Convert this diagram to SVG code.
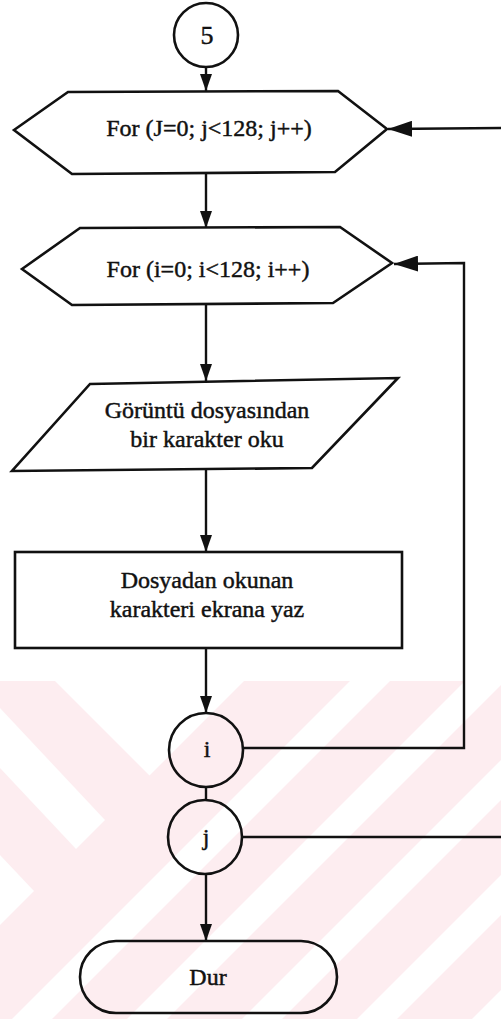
<svg xmlns="http://www.w3.org/2000/svg" width="501" height="1019" viewBox="0 0 501 1019">
  <style>
    .shape { fill: none; stroke: #111; stroke-width: 2.6; stroke-linejoin: miter; }
    .conn { fill: none; stroke: #111; stroke-width: 2.4; }
    .lbl { font-family: "Liberation Serif", "Times New Roman", serif; font-size: 24px; fill: #111; stroke: #111; stroke-width: 0.45; text-anchor: middle; }
    .wm { fill: #fdedf0; }
    .wmgap { fill: #ffffff; }
  </style>
  <defs>
    <marker id="arr" viewBox="0 0 17 12" refX="17" refY="6" markerWidth="17" markerHeight="12" markerUnits="userSpaceOnUse" orient="auto">
      <path d="M0,0 L17,6 L0,12 Z" fill="#111"/>
    </marker>
    <marker id="arrBig" viewBox="0 0 24 16" refX="24" refY="8" markerWidth="24" markerHeight="16" markerUnits="userSpaceOnUse" orient="auto">
      <path d="M0,0 L24,8 L0,16 Z" fill="#111"/>
    </marker>
    <clipPath id="wmClip">
      <rect x="0" y="681" width="501" height="338"/>
    </clipPath>
  </defs>

  <rect x="0" y="0" width="501" height="1019" fill="#ffffff"/>

  <!-- background band pattern -->
  <g id="watermark" clip-path="url(#wmClip)">
    <rect class="wm" x="0" y="681" width="501" height="338"/>
    <polygon class="wmgap" points="55,681 149.5,775.5 244,681"/>
    <polygon class="wmgap" points="0,708 105,820 76,849 0,768"/>
    <polygon class="wmgap" points="0,855 34,891 0,925"/>
    <polygon class="wmgap" points="350,681 390,681 52,1019 12,1019"/>
    <polygon class="wmgap" points="465,681 505,681 167,1019 127,1019"/>
    <polygon class="wmgap" points="580,681 620,681 282,1019 242,1019"/>
    <polygon class="wmgap" points="695,681 735,681 397,1019 357,1019"/>
    <polygon class="wmgap" points="810,681 850,681 512,1019 472,1019"/>
  </g>

  <g id="connectors">
    <line class="conn" x1="206" y1="67" x2="206" y2="91" marker-end="url(#arr)"/>
    <line class="conn" x1="206" y1="174" x2="206" y2="228" marker-end="url(#arr)"/>
    <line class="conn" x1="206" y1="305" x2="206" y2="381" marker-end="url(#arr)"/>
    <line class="conn" x1="206" y1="470" x2="206" y2="552" marker-end="url(#arr)"/>
    <line class="conn" x1="206" y1="648" x2="206" y2="713" marker-end="url(#arr)"/>
    <line class="conn" x1="206" y1="787" x2="206" y2="800"/>
    <line class="conn" x1="206" y1="874" x2="206" y2="941" marker-end="url(#arr)"/>
    <line class="conn" x1="501" y1="128" x2="388" y2="129" marker-end="url(#arrBig)"/>
    <polyline class="conn" points="243,748 464,748 464,263 394,264" marker-end="url(#arrBig)"/>
    <line class="conn" x1="243" y1="837" x2="501" y2="837"/>
  </g>

  <g id="start-5">
    <circle class="shape" cx="206" cy="35" r="32"/>
    <text class="lbl" x="207" y="44" style="font-size:26px">5</text>
  </g>

  <g id="loop-j">
    <polygon class="shape" points="14,130 68,92 338,91 387,129 335,172 72,174"/>
    <text class="lbl" x="209" y="136">For (J=0; j&lt;128; j++)</text>
  </g>

  <g id="loop-i">
    <polygon class="shape" points="22,269 80,228 340,227 392,263 333,303 72,305"/>
    <text class="lbl" x="208" y="277">For (i=0; i&lt;128; i++)</text>
  </g>

  <g id="read-char">
    <polygon class="shape" points="90,384 398,378 312,468 12,471"/>
    <text class="lbl" x="207" y="418">Görüntü dosyasından</text>
    <text class="lbl" x="207" y="447">bir karakter oku</text>
  </g>

  <g id="write-char">
    <rect class="shape" x="15" y="552" width="387" height="96"/>
    <text class="lbl" x="207" y="588">Dosyadan okunan</text>
    <text class="lbl" x="207" y="617">karakteri ekrana yaz</text>
  </g>

  <g id="end-i">
    <circle class="shape" cx="206" cy="750" r="37"/>
    <text class="lbl" x="207" y="757">i</text>
  </g>

  <g id="end-j">
    <circle class="shape" cx="205" cy="837" r="37"/>
    <text class="lbl" x="206" y="845">j</text>
  </g>

  <g id="stop">
    <rect class="shape" x="80" y="941" width="257" height="72" rx="36" ry="36"/>
    <text class="lbl" x="208" y="985">Dur</text>
  </g>
</svg>
